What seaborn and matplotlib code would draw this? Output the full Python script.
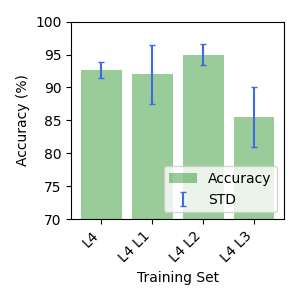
import numpy as np
import pandas as pd
import matplotlib
matplotlib.use("Agg")
import matplotlib.pyplot as plt
import seaborn as sns

# Data
training_sets = ["L4", "L4 L1", "L4 L2", "L4 L3"]
accuracy = [92.6, 92.0, 95.0, 85.5]
std = [1.2, 4.5, 1.6, 4.5]

df = pd.DataFrame({"Training Set": training_sets, "Accuracy": accuracy, "STD": std})

fig, ax = plt.subplots(figsize=(3, 3), dpi=100)
sns.barplot(data=df, x="Training Set", y="Accuracy", color="green", alpha=0.4,
            errorbar=None, width=0.8, saturation=1, ax=ax)
bars = ax.containers[0]
err = ax.errorbar(np.arange(len(training_sets)), df["Accuracy"], yerr=df["STD"],
                  fmt="none", ecolor="royalblue", capsize=2.5, elinewidth=1.5)

ax.set_xlim(-0.59, 3.59)
ax.set_ylim(70, 100)
ax.set_ylabel("Accuracy (%)")
ax.set_xlabel("Training Set")
plt.setp(ax.get_xticklabels(), rotation=45, ha="right", rotation_mode="default")
ax.legend([bars, err], ["Accuracy", "STD"], loc="lower right")

fig.subplots_adjust(left=0.238, right=0.947, top=0.928, bottom=0.27)
fig.savefig("out.png", dpi=100)
